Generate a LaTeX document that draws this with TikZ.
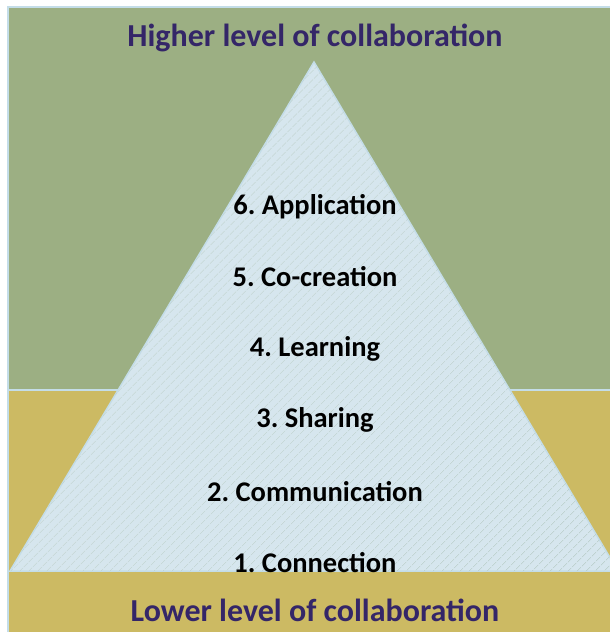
\documentclass[tikz,border=0pt]{standalone}
\usepackage{fontspec}
\setmainfont{Carlito}
\usetikzlibrary{patterns.meta,positioning}
\definecolor{topgreen}{RGB}{156,175,131}
\definecolor{lowtan}{RGB}{204,186,99}
\definecolor{frameblue}{RGB}{196,221,232}
\definecolor{pyrblue}{RGB}{214,230,238}
\definecolor{hatchgrey}{RGB}{176,198,190}
\definecolor{titlepurple}{RGB}{52,38,104}
\frenchspacing

\begin{document}
\begin{tikzpicture}[
        x=1pt, y=-1pt,
        band/.style={draw=frameblue, line width=2pt},
        pyramid/.style={fill=pyrblue, draw=frameblue, line width=1.5pt, line join=miter},
        hatch/.style={pattern={Lines[angle=45, distance=6.5pt, line width=0.5pt]}, pattern color=hatchgrey},
        level/.style={font=\fontsize{28.5}{32}\selectfont\bfseries, text=black, inner sep=0pt},
        heading/.style={font=\fontsize{32}{36}\selectfont\bfseries, text=titlepurple, inner sep=0pt}
    ]
        \useasboundingbox (0,0) rectangle (610,632);

        % Background bands
        \fill[white] (0,0) rectangle (610,632);
        \filldraw[band, fill=topgreen] (8,7) rectangle (612,390);
        \filldraw[band, fill=lowtan] (8,390) rectangle (612,640);

        % Pyramid
        \coordinate (apex) at (314,62);
        \coordinate (baseL) at (10,571);
        \coordinate (baseR) at (618,571);
        \filldraw[pyramid] (apex) -- (baseR) -- (baseL) -- cycle;
        \fill[hatch] (apex) -- (baseR) -- (baseL) -- cycle;

        % Headings
        \node[heading] (high) at (315,38) {Higher level of collaboration};
        \node[heading] (low) at (315,610) {Lower level of collaboration};

        % Levels
        \node[level] (l6) at (315,207) {6. Application};
        \node[level] (l5) at (315,277) {5. Co-creation};
        \node[level] (l4) at (315,349) {4. Learning};
        \node[level] (l3) at (315,420) {3. Sharing};
        \node[level] (l2) at (315,492) {2. Communication};
        \node[level] (l1) at (315,563) {1. Connection};

    \end{tikzpicture}
\end{document}
